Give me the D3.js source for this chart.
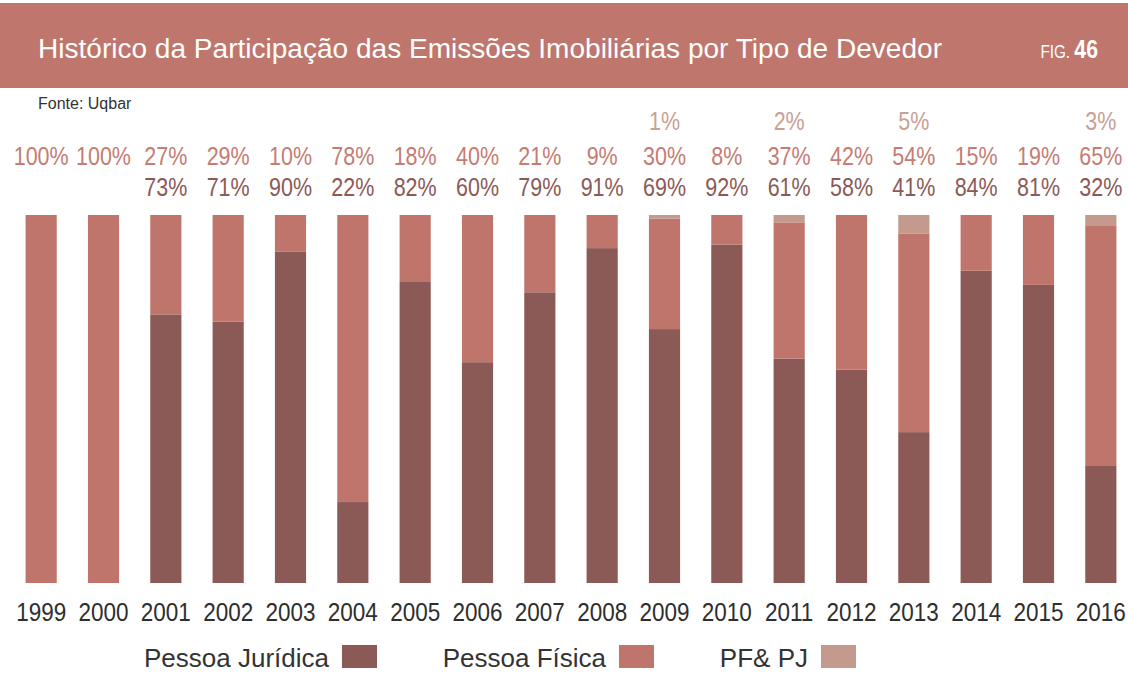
<!DOCTYPE html>
<html>
<head>
<meta charset="utf-8">
<script src="https://cdn.jsdelivr.net/npm/d3@7"></script>
<style>
  body { margin: 0; background: #fff; }
  svg text { font-family: "Liberation Sans", Arial, sans-serif; }
</style>
</head>
<body>
<div id="chart"></div>
<script>
// data
var years = ["1999", "2000", "2001", "2002", "2003", "2004", "2005", "2006", "2007",
             "2008", "2009", "2010", "2011", "2012", "2013", "2014", "2015", "2016"];
var pessoaJuridica = [0, 0, 73, 71, 90, 22, 82, 60, 79, 91, 69, 92, 61, 58, 41, 84, 81, 32];
var pessoaFisica   = [100, 100, 27, 29, 10, 78, 18, 40, 21, 9, 30, 8, 37, 42, 54, 15, 19, 65];
var pfpj           = [0, 0, 0, 0, 0, 0, 0, 0, 0, 0, 1, 0, 2, 0, 5, 0, 0, 3];
var seriesNames = ["Pessoa Jurídica", "Pessoa Física", "PF& PJ"];
var colors = ["#8b5a56", "#bf756b", "#c49a8e"];
var labelColors = ["#8b5a56", "#c57c72", "#c9a095"];

var W = 1128, H = 696;

var svg = d3.select("#chart")
    .append("svg")
    .attr("width", W)
    .attr("height", H);

// title band
svg.append("rect")
    .attr("x", 0).attr("y", 3)
    .attr("width", W).attr("height", 85)
    .attr("fill", "#bf766c");

svg.append("text")
    .attr("x", 38).attr("y", 58)
    .attr("fill", "#fff")
    .style("font-size", "27px")
    .attr("textLength", 904)
    .attr("lengthAdjust", "spacingAndGlyphs")
    .text("Histórico da Participação das Emissões Imobiliárias por Tipo de Devedor");

var fig = svg.append("text")
    .attr("transform", "translate(1098,58) scale(0.85,1)")
    .attr("text-anchor", "end")
    .attr("fill", "#fff");
fig.append("tspan").style("font-size", "18px").text("FIG. ");
fig.append("tspan").style("font-size", "25px").style("font-weight", "bold").text("46");

svg.append("text")
    .attr("x", 38).attr("y", 109)
    .attr("fill", "#333")
    .style("font-size", "16px")
    .text("Fonte: Uqbar");

// scales
var x = d3.scaleBand()
    .domain(years)
    .range([10, 1132])
    .paddingInner(0.5)
    .paddingOuter(0.25);

var y = d3.scaleLinear()
    .domain([0, 1])
    .range([583, 215]);

var table = years.map(function (yr, i) {
    return { year: yr, pj: pessoaJuridica[i], pf: pessoaFisica[i], pfpj: pfpj[i] };
});

// 100% stacked: rounded shares are normalised to the full bar
var stack = d3.stack().keys(["pj", "pf", "pfpj"]).offset(d3.stackOffsetExpand);
var layers = stack(table);

svg.append("g")
    .selectAll("g")
    .data(layers)
    .enter().append("g")
    .attr("fill", function (d, i) { return colors[i]; })
    .selectAll("rect")
    .data(function (d) { return d; })
    .enter().append("rect")
    .attr("x", function (d) { return x(d.data.year); })
    .attr("y", function (d) { return y(d[1]); })
    .attr("width", x.bandwidth())
    .attr("height", function (d) { return y(d[0]) - y(d[1]); });

// percent labels above the bars: rows for PF&PJ, PF, PJ
var rows = [
    { key: "pfpj", base: 130, color: labelColors[2] },
    { key: "pf", base: 165, color: labelColors[1] },
    { key: "pj", base: 196, color: labelColors[0] }
];

rows.forEach(function (r) {
    svg.append("g")
        .selectAll("text")
        .data(table.filter(function (d) { return d[r.key] > 0; }))
        .enter().append("text")
        .attr("transform", function (d) {
            return "translate(" + (x(d.year) + x.bandwidth() / 2) + "," + r.base + ") scale(0.86,1)";
        })
        .attr("text-anchor", "middle")
        .attr("fill", r.color)
        .style("font-size", "25px")
        .text(function (d) { return d[r.key] + "%"; });
});

// year axis
var xAxis = d3.axisBottom(x).tickSize(0).tickPadding(0);
var gx = svg.append("g")
    .attr("transform", "translate(0,603)")
    .call(xAxis);
gx.select(".domain").remove();
gx.selectAll("text")
    .attr("y", 0).attr("dy", "0.71em")
    .attr("transform", "scale(0.9,1)")
    .attr("fill", "#2e2e2e")
    .style("font-size", "25px");

// legend
var legend = [
    { name: seriesNames[0], sx: 342 },
    { name: seriesNames[1], sx: 619 },
    { name: seriesNames[2], sx: 821 }
];

var lg = svg.append("g")
    .selectAll("g")
    .data(legend)
    .enter().append("g");

lg.append("text")
    .attr("x", function (d) { return d.sx - 13; })
    .attr("y", 667)
    .attr("text-anchor", "end")
    .attr("fill", "#333")
    .style("font-size", "26px")
    .text(function (d) { return d.name; });

lg.append("rect")
    .attr("x", function (d) { return d.sx; })
    .attr("y", 645)
    .attr("width", 35)
    .attr("height", 23)
    .attr("fill", function (d, i) { return colors[i]; });
</script>
</body>
</html>
